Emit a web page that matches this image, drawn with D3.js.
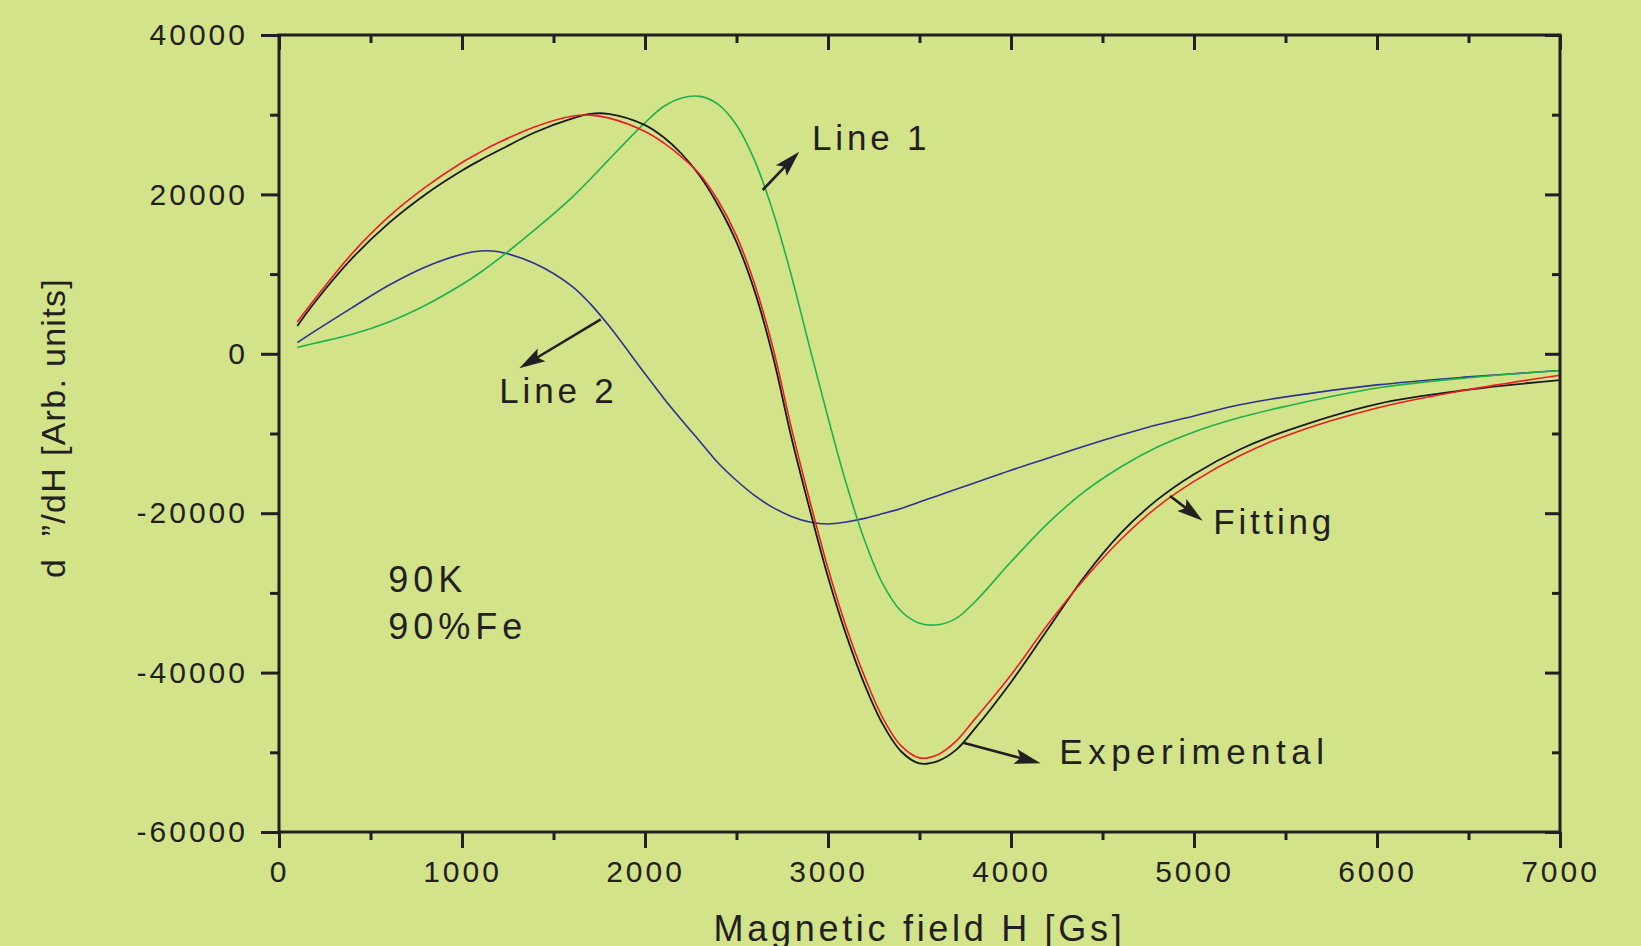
<!DOCTYPE html>
<html>
<head>
<meta charset="utf-8">
<script src="https://cdnjs.cloudflare.com/ajax/libs/d3/7.8.5/d3.min.js"></script>
<style>
  html, body { margin: 0; padding: 0; background: #d3e38a; }
  svg { display: block; }
</style>
</head>
<body>
<div id="chart"></div>
<script>
// field grid [Gs] shared by all curves
var fieldH = [100, 200, 400, 600, 800, 1000, 1100, 1200, 1400, 1600, 1700, 1800, 2000, 2100, 2200, 2300,
    2400, 2500, 2600, 2700, 2800, 2900, 3000, 3100, 3200, 3300, 3400, 3500, 3600, 3700, 3800,
    4000, 4200, 4400, 4600, 4800, 5000, 5250, 5500, 6000, 6500, 7000];

var experimental = [3500, 6600, 12000, 16400, 20000, 23000, 24300, 25500, 27800, 29500, 30100, 30100, 28700, 27200, 25100, 22300,
    18600, 14000, 7800, -400, -10500, -19500, -28000, -35300, -41500, -46500, -49900, -51400, -51100, -49700, -47100,
    -41200, -34600, -28000, -22500, -18300, -15100, -12000, -9700, -6300, -4500, -3300];

var fitting = [4000, 7000, 12600, 17200, 20900, 24000, 25300, 26500, 28500, 29800, 29950, 29600, 27900, 26500, 24700, 22500,
    19200, 14800, 8700, 700, -9300, -18400, -26900, -34300, -40500, -45700, -49200, -50700, -50300, -48600, -45900,
    -40300, -34000, -28300, -23300, -19200, -16000, -12800, -10300, -6800, -4500, -2700];

var line1 = [800, 1350, 2450, 4000, 6100, 8700, 10200, 11900, 15600, 19600, 21900, 24300, 29000, 31000, 32100, 32300,
    31300, 28700, 24200, 17800, 9800, 800, -8000, -16300, -23400, -28900, -32300, -33800, -34000, -33200, -31200,
    -26100, -21300, -17300, -14200, -11700, -9800, -8000, -6600, -4300, -3000, -2100];

var line2 = [1400, 2900, 5800, 8600, 10900, 12500, 12900, 12800, 11300, 8500, 6300, 3600, -2500, -5500, -8300, -11000,
    -13700, -15900, -17800, -19300, -20400, -21100, -21350, -21100, -20650, -20050, -19400, -18600, -17800, -17000, -16200,
    -14600, -13100, -11600, -10200, -8900, -7800, -6400, -5400, -3900, -2900, -2100];

var xMajor = [0, 1000, 2000, 3000, 4000, 5000, 6000, 7000];
var xMinor = [500, 1500, 2500, 3500, 4500, 5500, 6500];
var yMajor = [40000, 20000, 0, -20000, -40000, -60000];
var yMinor = [30000, 10000, -10000, -30000, -50000];

// annotations: [label, textH, textV, arrowFromH, arrowFromV, arrowToH, arrowToV]
var notes = [
    ["Line 1", 2913, 25570, 2643, 20550, 2843, 25360],
    ["Line 2", 1204, -6210, 1758, 4330, 1313, -1820],
    ["Fitting", 5105, -22610, 4869, -17840, 5047, -20940],
    ["Experimental", 4264, -51470, 3739, -48800, 4162, -51380]
];
var sampleInfo = [["90K", 597, -29920], ["90%Fe", 597, -35780]];

var W = 1641, H = 946,
    padL = 279, padR = 1560, padT = 35, padB = 832,
    ink = "#231f20",
    font = "'Liberation Sans', Arial, sans-serif",
    noteSpacing = {"Experimental": "5.5px"};

var svg = d3.select("#chart").append("svg")
    .attr("width", W)
    .attr("height", H);

svg.append("rect")
    .attr("width", W)
    .attr("height", H)
    .style("fill", "#d3e38a");

var x = d3.scaleLinear().domain([0, 7000]).range([padL, padR]);
var y = d3.scaleLinear().domain([-60000, 40000]).range([padB, padT]);

//curves
var series = [
    {vals: line2, color: "#2e3192", w: 1.6},
    {vals: line1, color: "#1fb14b", w: 1.6},
    {vals: experimental, color: "#1a1a1a", w: 1.8},
    {vals: fitting, color: "#ed1c24", w: 1.6}
];
var line = d3.line()
    .x(function(d){ return x(d[0]); })
    .y(function(d){ return y(d[1]); })
    .curve(d3.curveCatmullRom.alpha(0.5));

series.forEach(function(s){
    svg.append("path")
        .datum(fieldH.map(function(h, i){ return [h, s.vals[i]]; }))
        .attr("d", line)
        .style("fill", "none")
        .style("stroke", s.color)
        .style("stroke-width", s.w);
});

//axes
function styleAxis(g){
    g.select(".domain").remove();
    g.selectAll("line").style("stroke", ink).style("stroke-width", 3);
    g.selectAll("text")
        .style("font-family", font)
        .style("font-size", "30px")
        .style("letter-spacing", "3px")
        .style("fill", ink);
}
var plain = function(d){ return String(d); };

svg.append("g").attr("transform", "translate(0," + padB + ")")
    .call(d3.axisBottom(x).tickValues(xMajor).tickSize(16).tickSizeOuter(0).tickPadding(13).tickFormat(plain))
    .call(styleAxis);
svg.append("g").attr("transform", "translate(0," + padB + ")")
    .call(d3.axisBottom(x).tickValues(xMinor).tickSize(8).tickSizeOuter(0).tickFormat(""))
    .call(styleAxis);
svg.append("g").attr("transform", "translate(0," + padT + ")")
    .call(d3.axisBottom(x).tickValues(xMajor).tickSize(15).tickSizeOuter(0).tickFormat(""))
    .call(styleAxis);
svg.append("g").attr("transform", "translate(0," + padT + ")")
    .call(d3.axisBottom(x).tickValues(xMinor).tickSize(8).tickSizeOuter(0).tickFormat(""))
    .call(styleAxis);

svg.append("g").attr("transform", "translate(" + padL + ",0)")
    .call(d3.axisLeft(y).tickValues(yMajor).tickSize(18).tickSizeOuter(0).tickPadding(13).tickFormat(plain))
    .call(styleAxis);
svg.append("g").attr("transform", "translate(" + padL + ",0)")
    .call(d3.axisLeft(y).tickValues(yMinor).tickSize(9).tickSizeOuter(0).tickFormat(""))
    .call(styleAxis);
svg.append("g").attr("transform", "translate(" + padR + ",0)")
    .call(d3.axisLeft(y).tickValues(yMajor).tickSize(15).tickSizeOuter(0).tickFormat(""))
    .call(styleAxis);
svg.append("g").attr("transform", "translate(" + padR + ",0)")
    .call(d3.axisLeft(y).tickValues(yMinor).tickSize(8).tickSizeOuter(0).tickFormat(""))
    .call(styleAxis);

svg.append("rect")
    .attr("x", padL)
    .attr("y", padT)
    .attr("width", padR - padL)
    .attr("height", padB - padT)
    .style("fill", "none")
    .style("stroke", ink)
    .style("stroke-width", 3);

//axis titles
svg.append("text")
    .attr("x", (padL + padR) / 2)
    .attr("y", 941)
    .attr("text-anchor", "middle")
    .text("Magnetic field H [Gs]")
    .style("font-family", font)
    .style("font-size", "36px")
    .style("letter-spacing", "3.7px")
    .style("fill", ink);

svg.append("text")
    .attr("transform", "translate(65,428) rotate(-90)")
    .attr("text-anchor", "middle")
    .text("d  \u201D/dH [Arb. units]")
    .style("white-space", "pre")
    .style("font-family", font)
    .style("font-size", "34px")
    .style("letter-spacing", "1.3px")
    .style("fill", ink);

//annotations
function arrow(x1, y1, x2, y2){
    var a = Math.atan2(y2 - y1, x2 - x1),
        len = 26, hw = 7.5,
        bx = x2 - len * Math.cos(a), by = y2 - len * Math.sin(a);
    svg.append("line")
        .attr("x1", x1).attr("y1", y1)
        .attr("x2", bx + 6 * Math.cos(a)).attr("y2", by + 6 * Math.sin(a))
        .style("stroke", ink)
        .style("stroke-width", 2.6);
    svg.append("path")
        .attr("d", "M" + x2 + "," + y2 +
            "L" + (bx - hw * Math.sin(a)) + "," + (by + hw * Math.cos(a)) +
            "L" + (bx + 5 * Math.cos(a)) + "," + (by + 5 * Math.sin(a)) +
            "L" + (bx + hw * Math.sin(a)) + "," + (by - hw * Math.cos(a)) + "Z")
        .style("fill", ink);
}

notes.forEach(function(n){
    arrow(x(n[3]), y(n[4]), x(n[5]), y(n[6]));
    svg.append("text")
        .attr("x", x(n[1]))
        .attr("y", y(n[2]))
        .text(n[0])
        .style("font-family", font)
        .style("font-size", "35px")
        .style("letter-spacing", noteSpacing[n[0]] || "3.8px")
        .style("fill", ink);
});

sampleInfo.forEach(function(n){
    svg.append("text")
        .attr("x", x(n[1]))
        .attr("y", y(n[2]))
        .text(n[0])
        .style("font-family", font)
        .style("font-size", "36px")
        .style("letter-spacing", "5px")
        .style("fill", ink);
});
</script>
</body>
</html>
